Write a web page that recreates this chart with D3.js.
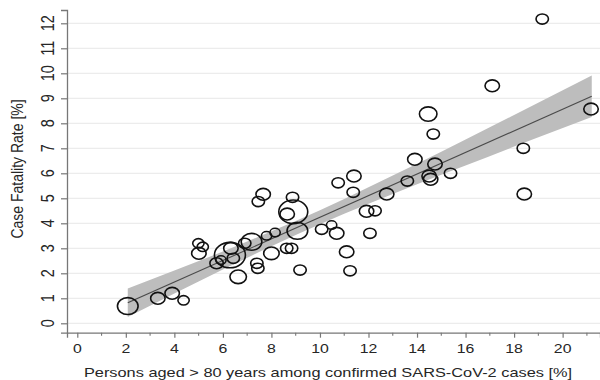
<!DOCTYPE html>
<html>
<head>
<meta charset="utf-8">
<script src="https://cdn.jsdelivr.net/npm/d3@7"></script>
<style>
  body { margin: 0; background: #fff; }
  text { font-family: "Liberation Sans", Arial, sans-serif; fill: #262626; }
</style>
</head>
<body>
<div class="graphContainer"></div>
<script>
const w = 600;
const h = 380;
const m = {top: 10, right: 0, bottom: 47.3, left: 67};
const stretch = 1.22; // the reference text is a little wider than tall

// countries: share of >80 among cases [%], case fatality rate [%], weight (bubble size)
const older = [2.08, 3.32, 3.91, 4.38, 4.99, 5.17, 5.01, 5.74, 5.92, 6.29, 6.33, 6.43, 6.9, 7.18, 7.8, 8.15, 8.0, 7.4,
  7.44, 6.63, 7.66, 7.46, 8.87, 8.65, 8.9, 9.07, 8.63, 8.83, 9.18, 10.07, 10.48, 10.69, 11.1, 11.24, 12.06, 11.92,
  12.27, 11.37, 12.75, 10.75, 11.4, 13.91, 13.6, 14.46, 14.67, 14.74, 14.5, 14.56, 15.38, 18.38, 18.42, 17.1, 19.16, 21.17];
const cfr = [0.69, 1.0, 1.2, 0.92, 3.2, 3.06, 2.8, 2.4, 2.53, 2.73, 3.0, 2.6, 3.2, 3.26, 3.5, 3.63, 2.8, 2.4,
  2.2, 1.86, 5.16, 4.87, 5.04, 4.37, 4.46, 3.7, 3.0, 3.0, 2.13, 3.76, 3.93, 3.6, 2.86, 2.1, 3.6, 4.48,
  4.5, 5.24, 5.17, 5.62, 5.89, 6.56, 5.69, 8.37, 7.57, 6.37, 5.89, 5.76, 6.0, 7.0, 5.17, 9.5, 12.17, 8.57];
const weight = [100, 49, 49, 30, 30, 30, 49, 42, 25, 225, 49, 36, 36, 100, 25, 25, 56, 36,
  36, 64, 49, 36, 36, 49, 196, 100, 36, 36, 36, 36, 25, 49, 49, 36, 36, 49,
  36, 36, 49, 36, 49, 49, 36, 72, 36, 49, 49, 49, 36, 36, 49, 49, 36, 49];

// fitted line and its confidence band
const fitX = [2.08, 21.2];
const fitY = [0.82, 9.08];
const bandX = [2.08, 4, 6, 8, 10, 12, 14, 16, 18, 21.2];
const bandLo = [0.25, 1.19, 2.15, 3.08, 3.96, 4.78, 5.56, 6.31, 7.07, 8.25];
const bandHi = [1.39, 2.11, 2.87, 3.68, 4.52, 5.44, 6.38, 7.35, 8.33, 9.91];

// ticks
const xMajor = [0, 2, 4, 6, 8, 10, 12, 14, 16, 18, 20];
const xMinor = [1, 3, 5, 7, 9, 11, 13, 15, 17, 19, 21];
const yTicks = [0, 1, 2, 3, 4, 5, 6, 7, 8, 9, 10, 11, 12];

const xTitle = "Persons aged > 80 years among confirmed SARS-CoV-2 cases [%]";
const yTitle = "Case Fatality Rate [%]";

//create svg
const svg = d3.select(".graphContainer").append("svg")
  .attr("width", w)
  .attr("height", h);

//scales
const x = d3.scaleLinear().domain([-0.424, 21.54]).range([m.left, w - m.right]);
const y = d3.scaleLinear().domain([-0.376, 12.532]).range([h - m.bottom, m.top]);
const r = d3.scaleSqrt().domain([0, 225]).range([0, 15.5]);

//horizontal gridlines
svg.append("g")
  .selectAll("line")
  .data(yTicks)
  .enter()
  .append("line")
  .attr("x1", m.left)
  .attr("x2", w)
  .attr("y1", d => y(d))
  .attr("y2", d => y(d))
  .attr("stroke", "#ececec")
  .attr("stroke-width", 1.2);

//confidence band
const band = bandX.map((d, i) => ({x: d, lo: bandLo[i], hi: bandHi[i]}));
svg.append("path")
  .datum(band)
  .attr("fill", "#bdbdbd")
  .attr("d", d3.area()
    .curve(d3.curveMonotoneX)
    .x(d => x(d.x))
    .y0(d => y(d.lo))
    .y1(d => y(d.hi)));

//fitted line
svg.append("path")
  .datum(fitX.map((d, i) => [d, fitY[i]]))
  .attr("fill", "none")
  .attr("stroke", "#4a4a4a")
  .attr("stroke-width", 1.1)
  .attr("d", d3.line().x(d => x(d[0])).y(d => y(d[1])));

//bubbles, drawn as slightly wide ellipses like the reference
const pts = older.map((d, i) => ({x: d, y: cfr[i], w: weight[i]}));
svg.append("g")
  .selectAll("ellipse")
  .data(pts)
  .enter()
  .append("ellipse")
  .attr("cx", d => x(d.x))
  .attr("cy", d => y(d.y))
  .attr("rx", d => r(d.w))
  .attr("ry", d => r(d.w) / stretch)
  .attr("fill", "none")
  .attr("stroke", "#111")
  .attr("stroke-width", 1.6);

//x axis
const xAxis = svg.append("g")
  .attr("transform", `translate(0,${h - m.bottom})`)
  .call(d3.axisBottom(x).tickValues(xMajor).tickSize(5).tickFormat(""));
xAxis.select(".domain").attr("stroke", "#777").attr("stroke-width", 1.3);
xAxis.selectAll(".tick line").attr("stroke", "#777").attr("stroke-width", 1.2);
xAxis.selectAll(".minor")
  .data(xMinor)
  .enter()
  .append("line")
  .attr("class", "minor")
  .attr("x1", d => x(d))
  .attr("x2", d => x(d))
  .attr("y1", 0)
  .attr("y2", 3)
  .attr("stroke", "#777")
  .attr("stroke-width", 1.1);
xAxis.selectAll(".lbl")
  .data(xMajor)
  .enter()
  .append("text")
  .attr("class", "lbl")
  .attr("transform", d => `translate(${x(d)},20) scale(${stretch},1)`)
  .attr("text-anchor", "middle")
  .style("font-size", "13px")
  .text(d => d);

//y axis
const yAxis = svg.append("g")
  .attr("transform", `translate(${m.left},0)`)
  .call(d3.axisLeft(y).tickValues(yTicks).tickSize(6).tickFormat(""));
yAxis.select(".domain").attr("stroke", "#777").attr("stroke-width", 1.3);
yAxis.selectAll(".tick line").attr("stroke", "#777").attr("stroke-width", 1.2);
yAxis.selectAll(".lbl")
  .data(yTicks)
  .enter()
  .append("text")
  .attr("class", "lbl")
  .attr("transform", d => `translate(-13.5,${y(d)}) scale(${stretch},1) rotate(-90)`)
  .attr("text-anchor", "middle")
  .style("font-size", "14.5px")
  .text(d => d);

//axis titles
svg.append("text")
  .attr("transform", `translate(${(83 + 573) / 2},377) scale(${stretch},1)`)
  .attr("text-anchor", "middle")
  .style("font-size", "13.4px")
  .text(xTitle);

svg.append("text")
  .attr("transform", `translate(23,169) scale(${stretch},1) rotate(-90)`)
  .attr("text-anchor", "middle")
  .style("font-size", "14px")
  .text(yTitle);
</script>
</body>
</html>
